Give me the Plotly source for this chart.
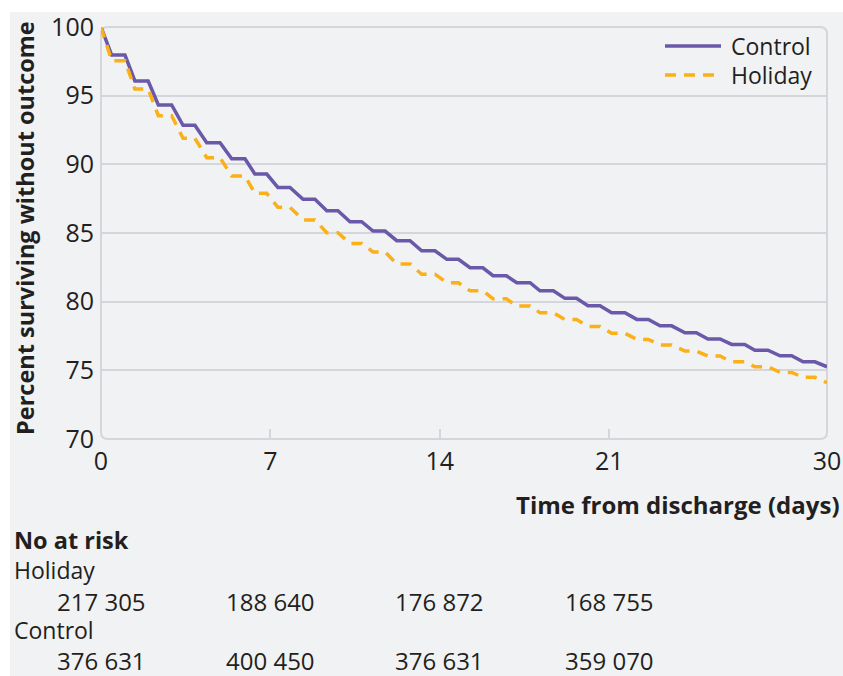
import plotly.graph_objects as go

# ---- data ----
step_start = [0.44, 1.40, 2.37, 3.39, 4.37, 5.40, 6.36, 7.31, 8.35, 9.33,
              10.29, 11.24, 12.22, 13.25, 14.29, 15.25, 16.20, 17.18, 18.14, 19.17,
              20.12, 21.10, 22.14, 23.10, 24.13, 25.08, 26.06, 27.02, 28.06, 29.01]
step_end = [0.99, 1.95, 2.92, 3.88, 4.92, 5.95, 6.85, 7.81, 8.84, 9.79,
            10.77, 11.74, 12.77, 13.80, 14.77, 15.78, 16.75, 17.73, 18.69, 19.65,
            20.62, 21.65, 22.62, 23.58, 24.60, 25.58, 26.60, 27.56, 28.54, 29.50]
control_levels = [97.96, 96.07, 94.32, 92.84, 91.57, 90.41, 89.29, 88.32, 87.45, 86.62,
                  85.82, 85.14, 84.44, 83.71, 83.08, 82.47, 81.89, 81.38, 80.79, 80.24,
                  79.70, 79.19, 78.71, 78.24, 77.74, 77.28, 76.89, 76.47, 76.06, 75.62]
holiday_levels = [97.55, 95.48, 93.54, 91.90, 90.48, 89.15, 87.89, 86.87, 85.95, 85.02,
                  84.24, 83.62, 82.75, 82.00, 81.38, 80.79, 80.21, 79.68, 79.20, 78.70,
                  78.20, 77.70, 77.25, 76.85, 76.40, 76.04, 75.62, 75.26, 74.85, 74.49]
start_time = 0
start_value = 100
end_time = 30
control_end = 75.26
holiday_end = 74.10

series_names = ["Control", "Holiday"]
x_ticks = [0, 7, 14, 21, 30]
y_ticks = [70, 75, 80, 85, 90, 95, 100]
y_grid = [75, 80, 85, 90, 95]
risk_times = [0, 7, 14, 21]
risk_holiday = ["217 305", "188 640", "176 872", "168 755"]
risk_control = ["376 631", "400 450", "376 631", "359 070"]

# ---- styles ----
BG = "#f1f2f4"
GRID = "#d5d6dc"
TXT = "#231f20"
PURPLE = "#6a58a8"
ORANGE = "#fbb018"
HOL_DASH = "11px,8px"
FONT = "Open Sans"


def build(levels, end_val):
    xs, ys = [start_time], [start_value]
    for s, e, v in zip(step_start, step_end, levels):
        xs += [s, e]
        ys += [v, v]
    xs.append(end_time)
    ys.append(end_val)
    return xs, ys


cx, cy = build(control_levels, control_end)
hx, hy = build(holiday_levels, holiday_end)

fig = go.Figure()
fig.add_trace(go.Scatter(x=cx, y=cy, mode="lines", name=series_names[0],
                         line=dict(color=PURPLE, width=3.5)))
fig.add_trace(go.Scatter(x=hx, y=hy, mode="lines", name=series_names[1],
                         line=dict(color=ORANGE, width=3.5, dash=HOL_DASH)))

# plot geometry in pixels (for paper-coordinate conversion)
W, H = 843, 676
L, R, T, B = 101, 16, 27, 237
PW, PH = W - L - R, H - T - B


def px(xp):
    return (xp - L) / PW


def py(yp):
    return (H - B - yp) / PH


shapes = []
# grey panel with white margin top/left
shapes.append(dict(type="rect", xref="paper", yref="paper", layer="below",
                   x0=px(10), x1=px(W + 5), y0=py(H + 5), y1=py(12),
                   fillcolor=BG, line=dict(width=0)))
# rounded frame
rx, ry = 7 / PW, 7 / PH
path = (f"M {rx},0 L {1-rx},0 Q 1,0 1,{ry} L 1,{1-ry} Q 1,1 {1-rx},1 "
        f"L {rx},1 Q 0,1 0,{1-ry} L 0,{ry} Q 0,0 {rx},0 Z")
shapes.append(dict(type="path", xref="paper", yref="paper", layer="below",
                   path=path, line=dict(color=GRID, width=2)))

annotations = []
# legend (drawn manually to match sample length and spacing)
legend_rows = [(46, PURPLE, "solid"), (75, ORANGE, HOL_DASH)]
for name, (yy, col, dsh) in zip(series_names, legend_rows):
    shapes.append(dict(type="line", xref="paper", yref="paper",
                       x0=px(665), x1=px(721), y0=py(yy), y1=py(yy),
                       line=dict(color=col, width=3.5, dash=dsh)))
    annotations.append(dict(text=name, xref="paper", yref="paper", x=px(729), y=py(yy),
                            showarrow=False, xanchor="left", yanchor="middle",
                            font=dict(family=FONT, size=23, color=TXT)))

annotations.append(dict(text="<b>Percent surviving without outcome</b>", xref="paper", yref="paper",
                        x=px(25), y=py(228), textangle=-90, showarrow=False,
                        xanchor="center", yanchor="middle",
                        font=dict(family=FONT, size=23.5, color=TXT)))
annotations.append(dict(text="<b>Time from discharge (days)</b>", xref="paper", yref="paper",
                        x=px(842), y=py(505), showarrow=False, xanchor="right", yanchor="middle",
                        font=dict(family=FONT, size=24, color=TXT)))
annotations.append(dict(text="<b>No at risk</b>", xref="paper", yref="paper",
                        x=px(12), y=py(540), showarrow=False, xanchor="left", yanchor="middle",
                        font=dict(family=FONT, size=23.5, color=TXT)))
annotations.append(dict(text="Holiday", xref="paper", yref="paper",
                        x=px(12), y=py(570), showarrow=False, xanchor="left", yanchor="middle",
                        font=dict(family=FONT, size=23, color=TXT)))
annotations.append(dict(text="Control", xref="paper", yref="paper",
                        x=px(12), y=py(630), showarrow=False, xanchor="left", yanchor="middle",
                        font=dict(family=FONT, size=23, color=TXT)))
for t, hv, cv in zip(risk_times, risk_holiday, risk_control):
    annotations.append(dict(text=hv, xref="x", yref="paper", x=t, y=py(601),
                            showarrow=False, xanchor="center", yanchor="middle",
                            font=dict(family=FONT, size=24, color=TXT)))
    annotations.append(dict(text=cv, xref="x", yref="paper", x=t, y=py(660),
                            showarrow=False, xanchor="center", yanchor="middle",
                            font=dict(family=FONT, size=24, color=TXT)))

fig.update_layout(
    width=W, height=H,
    margin=dict(l=L, r=R, t=T, b=B, pad=0, autoexpand=False),
    paper_bgcolor="white",
    plot_bgcolor=BG,
    font=dict(family=FONT, size=24, color=TXT),
    shapes=shapes,
    annotations=annotations,
    showlegend=False,
)
fig.update_xaxes(range=[0, 30], tickvals=x_ticks, ticktext=[str(v) for v in x_ticks],
                 automargin=False,
                 showgrid=False, zeroline=False, showline=False,
                 ticks="inside", ticklen=10, tickwidth=1.5, tickcolor=GRID,
                 ticklabelstandoff=5,
                 tickfont=dict(family=FONT, size=25, color=TXT))
fig.update_yaxes(range=[70, 100], tickvals=y_ticks, ticktext=[str(v) for v in y_ticks],
                 automargin=False,
                 showgrid=False, zeroline=False, showline=False, ticks="",
                 ticklabelstandoff=6,
                 minor=dict(tickvals=y_grid, showgrid=True, gridcolor=GRID, gridwidth=2, ticks=""),
                 tickfont=dict(family=FONT, size=25, color=TXT))

fig.write_html("out.html", config={"displayModeBar": False},
               post_script="document.body.style.margin='0';document.body.style.overflow='hidden';")
